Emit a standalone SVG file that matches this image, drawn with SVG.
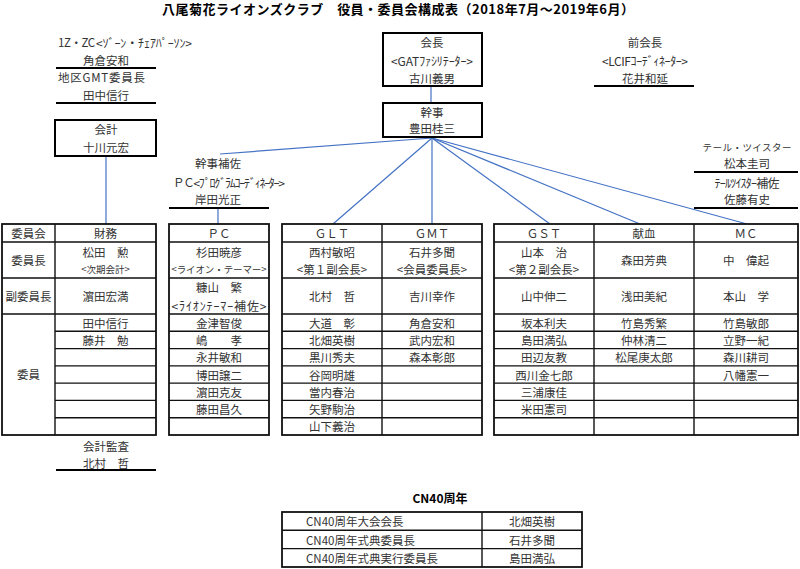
<svg xmlns="http://www.w3.org/2000/svg" width="800" height="569" viewBox="0 0 800 569">
<style>
text{font-family:"Noto Sans CJK JP","Noto Sans",sans-serif;fill:#333;font-size:11.5px;text-anchor:middle;dominant-baseline:central}
.title{font-size:13px;font-weight:bold;fill:#000}
.s{font-size:9.5px}
.hk{font-size:12px}
.l{text-anchor:start}
.box{fill:#fff;stroke:#000;stroke-width:2}
.tb{fill:#fff;stroke:#111;stroke-width:1.8}
.g{stroke:#111;stroke-width:1.4;fill:none}
.ul{stroke:#000;stroke-width:2}
.c{stroke:#4472C4;stroke-width:1.2;fill:none}
</style>
<rect width="800" height="569" fill="#fff"/>
<text class="title" x="398" y="8" textLength="472">八尾菊花ライオンズクラブ　役員・委員会構成表（2018年7月～2019年6月）</text>

<g id="connectors">
<line class="c" x1="431" y1="86" x2="431" y2="103"/>
<line class="c" x1="432" y1="138" x2="220" y2="154"/>
<line class="c" x1="432" y1="138" x2="333" y2="224"/>
<line class="c" x1="432" y1="138" x2="432" y2="224"/>
<line class="c" x1="432" y1="138" x2="550" y2="224"/>
<line class="c" x1="432" y1="138" x2="640" y2="224"/>
<line class="c" x1="432" y1="138" x2="747" y2="224"/>
<line class="c" x1="106" y1="156" x2="106" y2="224"/>
<line class="c" x1="218" y1="208" x2="218" y2="224"/>
</g>

<g id="zc">
<text class="l" x="58" y="42" textLength="37">1Z・ZC</text>
<text class="l hk" x="96" y="42" textLength="96">&lt;ｿﾞｰﾝ・ﾁｪｱﾊﾟｰｿﾝ&gt;</text>
<text x="106" y="60">角倉安和</text>
<line class="ul" x1="56" y1="68" x2="156" y2="68"/>
<text class="l" x="58" y="77" textLength="87">地区GMT委員長</text>
<text x="106" y="95">田中信行</text>
<line class="ul" x1="56" y1="103" x2="156" y2="103"/>
</g>

<g id="president">
<rect class="box" x="383" y="33" width="99" height="53"/>
<text x="432" y="42">会長</text>
<text class="hk" x="432" y="60" textLength="82">&lt;GATﾌｧｼﾘﾃｰﾀｰ&gt;</text>
<text x="432" y="78">古川義男</text>
</g>

<g id="past-president">
<text x="645" y="42">前会長</text>
<text class="hk" x="645" y="60" textLength="86">&lt;LCIFｺｰﾃﾞｨﾈｰﾀｰ&gt;</text>
<text x="645" y="78">花井和延</text>
<line class="ul" x1="594" y1="86" x2="694" y2="86"/>
</g>

<g id="secretary">
<rect class="box" x="383" y="103" width="99" height="34"/>
<text x="432" y="112">幹事</text>
<text x="432" y="128">豊田桂三</text>
</g>

<g id="treasurer">
<rect class="box" x="55" y="120" width="101" height="36"/>
<text x="106" y="129">会計</text>
<text x="106" y="147">十川元宏</text>
</g>

<g id="assistant-secretary">
<text x="218" y="163">幹事補佐</text>
<text x="229" y="182" textLength="112"><tspan>ＰＣ</tspan><tspan class="hk">&lt;ﾌﾟﾛｸﾞﾗﾑｺｰﾃﾞｨﾈｰﾀｰ&gt;</tspan></text>
<text x="218" y="199">岸田光正</text>
<line class="ul" x1="169" y1="208" x2="269" y2="208"/>
</g>

<g id="tail-twister">
<text class="s" x="747" y="147" textLength="89">テール・ツイスター</text>
<text x="747" y="163">松本圭司</text>
<line class="ul" x1="694" y1="172" x2="798" y2="172"/>
<text class="hk" x="747" y="182" textLength="65">ﾃｰﾙﾂｲｽﾀｰ補佐</text>
<text x="747" y="199">佐藤有史</text>
<line class="ul" x1="694" y1="208" x2="798" y2="208"/>
</g>

<g id="table-finance">
<rect class="tb" x="2" y="224" width="154" height="211"/>
<path class="g" d="M55 224V435M2 242H156M2 278H156M2 314H156M55 331.3H156M55 348.6H156M55 365.9H156M55 383.1H156M55 400.4H156M55 417.7H156"/>
<text x="28.5" y="233">委員会</text>
<text x="28.5" y="260">委員長</text>
<text x="28.5" y="296">副委員長</text>
<text x="28.5" y="374">委員</text>
<text x="105.5" y="233">財務</text>
<text x="105.5" y="251.5">松田　勲</text>
<text class="s" x="105.5" y="269">&lt;次期会計&gt;</text>
<text x="105.5" y="296">濵田宏満</text>
<text x="105.5" y="322.6">田中信行</text>
<text x="105.5" y="340">藤井　勉</text>
</g>

<g id="table-pc">
<rect class="tb" x="169" y="224" width="100" height="211"/>
<path class="g" d="M169 242H269M169 278H269M169 314H269M169 331.3H269M169 348.6H269M169 365.9H269M169 383.1H269M169 400.4H269M169 417.7H269"/>
<text x="219" y="233">ＰＣ</text>
<text x="219" y="251.5">杉田暁彦</text>
<text class="s" x="219" y="269" textLength="95">&lt;ライオン・テーマー&gt;</text>
<text x="219" y="287">糠山　繁</text>
<text class="hk" x="219" y="305" textLength="95">&lt;ﾗｲｵﾝﾃｰﾏｰ補佐&gt;</text>
<text x="219" y="322.6">金津智俊</text>
<text x="219" y="340">嶋　　孝</text>
<text x="219" y="357.3">永井敏和</text>
<text x="219" y="374.5">博田譲二</text>
<text x="219" y="391.8">濵田克友</text>
<text x="219" y="409">藤田昌久</text>
</g>

<g id="table-glt-gmt">
<rect class="tb" x="282" y="224" width="200" height="211"/>
<path class="g" d="M382 224V435M282 242H482M282 278H482M282 314H482M282 331.3H482M282 348.6H482M282 365.9H482M282 383.1H482M282 400.4H482M282 417.7H482"/>
<text x="332" y="233">ＧＬＴ</text>
<text x="332" y="251.5">西村敏昭</text>
<text x="332" y="269">&lt;第１副会長&gt;</text>
<text x="332" y="296">北村　哲</text>
<text x="332" y="322.6">大道　彰</text>
<text x="332" y="340">北畑英樹</text>
<text x="332" y="357.3">黒川秀夫</text>
<text x="332" y="374.5">谷岡明雄</text>
<text x="332" y="391.8">當内春治</text>
<text x="332" y="409">矢野駒治</text>
<text x="332" y="426.3">山下義治</text>
<text x="432" y="233">ＧＭＴ</text>
<text x="432" y="251.5">石井多聞</text>
<text x="432" y="269">&lt;会員委員長&gt;</text>
<text x="432" y="296">吉川幸作</text>
<text x="432" y="322.6">角倉安和</text>
<text x="432" y="340">武内宏和</text>
<text x="432" y="357.3">森本彰郎</text>
</g>

<g id="table-gst-blood-mc">
<rect class="tb" x="494" y="224" width="304" height="211"/>
<path class="g" d="M594 224V435M694 224V435M494 242H798M494 278H798M494 314H798M494 331.3H798M494 348.6H798M494 365.9H798M494 383.1H798M494 400.4H798M494 417.7H798"/>
<text x="544" y="233">ＧＳＴ</text>
<text x="544" y="251.5">山本　治</text>
<text x="544" y="269">&lt;第２副会長&gt;</text>
<text x="544" y="296">山中伸二</text>
<text x="544" y="322.6">坂本利夫</text>
<text x="544" y="340">島田満弘</text>
<text x="544" y="357.3">田辺友教</text>
<text x="544" y="374.5">西川金七郎</text>
<text x="544" y="391.8">三浦康佳</text>
<text x="544" y="409">米田憲司</text>
<text x="644" y="233">献血</text>
<text x="644" y="260">森田芳典</text>
<text x="644" y="296">浅田美紀</text>
<text x="644" y="322.6">竹島秀繁</text>
<text x="644" y="340">仲林清二</text>
<text x="644" y="357.3">松尾庚太郎</text>
<text x="746" y="233">ＭＣ</text>
<text x="746" y="260">中　偉起</text>
<text x="746" y="296">本山　学</text>
<text x="746" y="322.6">竹島敏郎</text>
<text x="746" y="340">立野一紀</text>
<text x="746" y="357.3">森川耕司</text>
<text x="746" y="374.5">八幡憲一</text>
</g>

<g id="auditor">
<text x="106" y="446">会計監査</text>
<text x="106" y="463">北村　哲</text>
<line class="ul" x1="56" y1="470" x2="156" y2="470"/>
</g>

<g id="cn40">
<text class="title" x="440" y="497" style="font-size:12px">CN40周年</text>
<rect class="tb" x="282" y="512" width="300" height="55"/>
<path class="g" d="M482 512V567M282 530.3H582M282 548.6H582"/>
<text class="l" x="306" y="521.2">CN40周年大会会長</text>
<text class="l" x="306" y="539.5">CN40周年式典委員長</text>
<text class="l" x="306" y="557.8">CN40周年式典実行委員長</text>
<text x="532" y="521.2">北畑英樹</text>
<text x="532" y="539.5">石井多聞</text>
<text x="532" y="557.8">島田満弘</text>
</g>
</svg>
